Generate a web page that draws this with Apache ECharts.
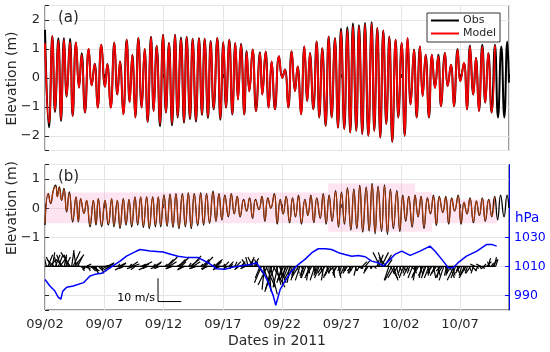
<!DOCTYPE html>
<html><head><meta charset="utf-8">
<script src="https://cdn.jsdelivr.net/npm/echarts@6/dist/echarts.min.js"></script>
<style>html,body{margin:0;padding:0;background:#fff}#c{width:550px;height:352px}</style>
</head><body><div id="c"></div>
<script>
// hours since 2011-09-02 00:00
const tickLabels = ['09/02','09/07','09/12','09/17','09/22','09/27','10/02','10/07'];
const tickStepHours = 120;
const axisEndHours = 939;

// Panel (a): tidal elevation extrema (hours, m)
const tideHours = [0,8.1,14.8,20.2,27.0,32.4,38.4,43.8,50.6,56.0,62.7,68.8,74.2,80.9,88.4,94.4,100.5,106.6,114.0,121.4,126.1,132.9,140.3,146.4,151.8,158.5,165.3,171.3,176.7,182.8,188.9,195.6,201.7,207.7,214.5,219.9,226.0,232.7,238.8,244.8,250.9,257.0,263.1,268.5,275.2,281.3,286.7,293.4,298.8,305.5,311.6,317.7,323.1,329.8,335.2,341.3,348.7,354.8,360.9,366.3,373.0,379.1,385.1,390.5,396.6,403.3,408.1,413.5,420.2,427.0,435.1,439.8,446.5,452.6,458.7,465.4,473.5,480.2,485.6,492.4,499.1,505.9,511.3,518.0,524.8,530.8,536.2,543.0,549.7,555.1,561.2,567.9,574.0,580.1,586.8,592.9,599.0,605.7,611.8,617.8,623.2,630.0,635.4,642.1,647.5,654.3,661.0,666.4,672.5,678.5,684.6,690.7,696.8,702.8,709.6,715.0,721.7,727.8,733.9,739.9,746.7,752.1,758.8,764.2,770.3,777.0,783.1,789.2,795.9,801.3,809.4,814.8,821.5,827.6,835.0,840.4,847.8,853.9,860.0,866.7,872.1,878.2,884.9,891.0,897.1,903.8,910.6,916.7,923.4,929.5,935.5,938.9];
const tideObs = [1.66,-1.70,1.45,-1.17,1.37,-1.48,1.38,-0.65,1.35,-1.31,1.22,-0.33,0.85,-1.19,1.00,-0.25,0.49,-1.02,1.15,-0.30,0.48,-1.02,1.22,-0.57,0.57,-1.25,1.32,-0.83,0.80,-1.36,1.38,-1.02,1.00,-1.52,1.42,-1.14,1.11,-1.66,1.49,-1.19,1.21,-1.63,1.49,-1.36,1.40,-1.54,1.42,-1.42,1.35,-1.50,1.37,-1.28,1.35,-1.38,1.28,-1.08,1.38,-1.44,1.23,-1.02,1.32,-1.26,1.21,-0.74,1.18,-1.26,0.93,-0.46,0.98,-1.14,0.89,-0.57,0.91,-1.02,0.57,-1.08,0.75,0.01,0.29,-1.02,0.92,-0.45,0.40,-1.25,1.09,-0.79,0.86,-1.08,1.26,-1.36,1.03,-1.65,1.43,-1.36,1.37,-1.71,1.70,-1.76,1.75,-1.88,1.88,-1.82,1.82,-1.93,1.90,-1.99,1.92,-1.82,1.72,-2.05,1.64,-1.59,1.43,-2.20,1.32,-1.36,1.21,-1.99,1.37,-0.91,0.98,-1.36,1.09,-0.62,0.80,-1.36,0.80,-0.34,0.80,-0.97,0.86,-0.28,0.46,-0.97,1.00,-0.11,0.52,-1.08,1.12,-0.57,0.69,-1.14,1.15,-0.85,0.86,-1.19,1.15,-1.36,1.09,-1.36,1.26,-0.16];
const tideModel = [1.20,-1.55,1.45,-1.12,1.30,-1.44,1.32,-0.62,1.25,-1.31,1.22,-0.33,0.80,-1.19,1.00,-0.25,0.49,-1.02,1.15,-0.30,0.48,-1.02,1.22,-0.57,0.57,-1.25,1.32,-0.83,0.80,-1.36,1.38,-1.02,1.00,-1.50,1.42,-1.14,1.11,-1.58,1.49,-1.19,1.21,-1.56,1.49,-1.33,1.36,-1.50,1.42,-1.38,1.35,-1.46,1.37,-1.25,1.35,-1.34,1.25,-1.06,1.38,-1.40,1.23,-1.02,1.32,-1.24,1.21,-0.74,1.15,-1.25,0.90,-0.46,0.98,-1.14,0.86,-0.57,0.91,-1.02,0.57,-1.08,0.75,0.01,0.29,-1.02,0.92,-0.45,0.40,-1.25,1.09,-0.79,0.86,-1.08,1.26,-1.36,1.03,-1.65,1.43,-1.36,1.37,-1.71,1.63,-1.76,1.67,-1.88,1.79,-1.82,1.77,-1.93,1.85,-1.99,1.88,-1.82,1.72,-2.05,1.64,-1.59,1.43,-2.20,1.32,-1.36,1.21,-1.99,1.37,-0.91,0.98,-1.36,1.09,-0.62,0.80,-1.36,0.80,-0.34,0.75,-0.97,0.86,-0.28,0.46,-0.97,0.97,-0.11,0.52,-1.08,1.08,-0.57,0.69,-1.14,1.08,-0.85,0.86,-1.19,1.12];

// Panel (b): elevation extrema (hours, m)
const bHours = [0,6.7,11.5,16.9,21.6,25.0,29.0,33.7,38.4,43.8,49.2,56.0,62.7,67.5,72.2,78.9,84.3,91.1,97.8,103.2,107.9,114.7,121.4,128.1,134.9,139.6,146.4,151.8,158.5,163.9,170.0,175.4,182.1,187.5,193.6,199.0,205.7,211.1,217.9,223.3,229.3,234.1,240.8,247,253,259,265,271,278,284,290,296,302,309,315,321,327,333,340,346,352,358,364,371,377,383,389,395,402,408,414,420,426,433,439,445,451,457,464,470,476,482,488,495,501,507,513,519,526,532,538,544,550,557,563,569,575,581,588,594,600,606,612,619,625,631,637,643,650,656,662,668,674,681,687,693,699,705,712,718,724,730,736,743,749,755,761,767,774,780,786,792,798,805,811,817,823,829,836,842,848,854,860,867,873,879,885,891,898,904,910,916,922,929,935,939];
const bObs = [-0.58,0.50,0.16,0.62,0.79,0.39,0.73,0.27,0.68,-0.13,0.56,-0.47,0.39,-0.47,0.33,-0.18,0.27,-0.64,0.27,-0.58,0.33,-0.64,0.27,-0.58,0.33,-0.64,0.27,-0.70,0.33,-0.58,0.30,-0.64,0.39,-0.58,0.39,-0.66,0.39,-0.70,0.39,-0.64,0.39,-0.64,0.45,-0.62,0.48,-0.66,0.50,-0.70,0.50,-0.64,0.52,-0.70,0.50,-0.60,0.52,-0.58,0.50,-0.52,0.58,-0.45,0.50,-0.40,0.45,-0.30,0.50,-0.20,0.40,-0.30,0.30,-0.10,0.35,-0.35,0.30,-0.05,0.40,-0.45,0.35,0.00,0.50,-0.55,0.30,-0.20,0.40,-0.50,0.35,-0.30,0.45,-0.55,0.30,-0.25,0.45,-0.50,0.35,-0.35,0.50,-0.55,0.45,-0.45,0.60,-0.65,0.55,-0.55,0.70,-0.75,0.65,-0.70,0.78,-0.82,0.72,-0.78,0.85,-0.88,0.75,-0.80,0.80,-0.90,0.65,-0.70,0.60,-0.80,0.45,-0.45,0.40,-0.65,0.45,-0.30,0.40,-0.70,0.35,-0.20,0.45,-0.60,0.40,-0.15,0.40,-0.55,0.35,-0.10,0.45,-0.55,0.20,-0.20,0.35,-0.50,0.25,-0.25,0.35,-0.45,0.30,-0.30,0.40,-0.40,0.45,-0.30,0.45,0.00];
const bModel = [-0.50,0.48,0.18,0.60,0.74,0.40,0.70,0.28,0.64,-0.10,0.52,-0.42,0.37,-0.43,0.31,-0.16,0.26,-0.58,0.26,-0.53,0.31,-0.58,0.26,-0.53,0.31,-0.58,0.26,-0.63,0.31,-0.53,0.29,-0.58,0.37,-0.53,0.37,-0.60,0.37,-0.64,0.37,-0.58,0.37,-0.58,0.42,-0.57,0.45,-0.60,0.47,-0.64,0.47,-0.58,0.49,-0.64,0.47,-0.55,0.49,-0.53,0.47,-0.48,0.54,-0.42,0.47,-0.37,0.42,-0.28,0.47,-0.18,0.38,-0.28,0.28,-0.09,0.33,-0.32,0.28,-0.04,0.38,-0.41,0.33,0.01,0.47,-0.50,0.28,-0.18,0.38,-0.46,0.33,-0.28,0.42,-0.50,0.28,-0.23,0.42,-0.46,0.33,-0.32,0.47,-0.50,0.42,-0.41,0.56,-0.60,0.52,-0.50,0.66,-0.69,0.61,-0.64,0.73,-0.76,0.68,-0.72,0.80,-0.82,0.70,-0.74,0.75,-0.83,0.61,-0.64,0.56,-0.74,0.42,-0.41,0.38,-0.60,0.42,-0.28,0.38,-0.64,0.33,-0.18,0.42,-0.55,0.38,-0.14,0.38,-0.50,0.33,-0.09,0.42,-0.50,0.19,-0.18,0.33,-0.46,0.24,-0.23,0.33,-0.41,0.28,-0.28,0.38];

// uncertainty band in (b): [start h, end h, bottom, top]
const bandStart = [0,573,749,783];
const bandEnd = [573,749,783,915];
const bandBottom = [-0.52,-0.81,-0.81,-0.52];
const bandTop = [0.54,0.85,0.55,0.30];

// air pressure (hours, hPa)
const presHours = [0,10,20,27,32,36,44,57,78,91,101,115,132,152,165,179,192,213,239,256,269,289,310,330,347,364,384,405,418,428,442,452,462,467,476,486,499,513,526,540,553,567,580,594,607,621,634,648,661,674,685,695,708,722,739,759,779,789,803,816,826,836,853,874,894,904,914];
const presHpa = [1001,996.5,993,988.6,987.4,993,995.6,996.5,998.8,1003.4,1004.5,1005.2,1009.1,1013.6,1017,1019.4,1021.6,1020.5,1019.8,1018.2,1017,1016,1016,1012.5,1008.4,1008,1009.8,1010.7,1011.4,1012.5,1005.7,998.8,989.7,983.3,994.2,1000,1006.8,1011.4,1014.8,1019.4,1022.1,1022.1,1021.6,1019.4,1018.2,1017,1017.5,1016.6,1013.6,1012.5,1010.2,1013.6,1018.2,1020.5,1017.5,1020.5,1023.9,1020.5,1014.8,1009.1,1009.1,1012.5,1017,1020.5,1025.1,1025.1,1023.9];
const presTicks = [990, 1010, 1030];

// wind sticks, 3-hourly from hour 0 (m/s), one row per day
const windStepHours = 3;
const windU = [
 -3,-1,2,3,-2,1,-3,2,  -1,2,3,-2,-3,1,2,-1,  -2,-4,1,3,4,-1,2,-1,  2,1,3,-1,2,1,3,2,
 3,2,1,-1,2,3,1,2,  0.5,1,3,2,-2,-1,0.5,0,  0.5,1,3,2,-3,-2,0.5,0,  0,1,3,3,-3,-2,0,0.5,
 0.5,2,4,2,-3,-2,0,0,  0,1,3,2,-3,-2,0.5,0,  0,1,3,4,3,-2,-3,-1,  0,2,3,4,2,-2,-3,-1,
 0,1,4,4,3,-2,-3,-1,  0,1,3,4,2,-2,-3,-1,  0,1,3,3,2,-2,-3,-1,  1,2,-1,-2,2,1,-1,-2,
 1,2,-1,-2,2,1,-1,-2,  -2,-1,2,1,-2,2,1,-1,  2,-2,-3,3,-1,4,-4,1,  3,-3,5,-4,2,-2,3,1,
 -2,-3,-1,-3,-2,-1,-3,-2,  -1,-2,1,-3,-2,1,-1,-2,  -2,1,-1,-2,-3,1,-2,-1,  -1,-2,1,-2,-1,-3,1,-2,
 -2,-1,1,-2,-1,-2,1,-1,  -1,1,-2,-1,-2,1,-1,-2,  -2,1,-1,2,-1,1,2,-1,  2,-1,-2,1,0.5,-1,1,0.5,
 1,2,-3,3,-2,3,-3,2,  -2,3,-3,2,-3,1,-2,1,  -1,2,-2,-1,1,-2,-1,2,  -2,1,-1,-2,-3,1,-1,-2,
 -1,-2,1,-2,-1,-2,1,-2,  -2,1,-1,-2,-3,-2,1,-1,  -1,2,-2,1,-3,-2,1,-1,  -2,-1,1,-2,-3,-1,1,-2,
 2,-1,-2,1,-1,1,-2,1,  1,-2,2,1,-1,1,2,1,  1];
const windV = [
 5,4,5,3,4,6,3,5,  4,5,4,5,3,5,4,3,  5,6,7,6.5,5,6,4,2,  -1,-2,-1,-1.5,1,-2,-1,-2,
 -2,-3,-2,-1,-2,-2,-3,-1,  0,0.5,1.5,1,-1,-1,0,0,  0,1,1.5,1,-1.5,-1,0,0,  0,1,2,1,-1,-1.5,0,0,
 0,1,2,1,-1.5,-1,0,0,  0,1,2,1.5,-1,-1,0,0,  0,1,3,4,2,-1,-1,0,  0,1,3,4,2,-1,-1.5,0,
 0,1.5,3,4.5,2,-1,-1,0,  0,1,3,4,2,-1.5,-1,0,  0,1,2.5,3,2,-1,-1.5,0,  1,2,-1,-1.5,2,1,-1,-1,
 2,2,-1,-1.5,2,1.5,-1,-1,  3,4,4,3,4,3.5,2,3,  -3,-5,-7,-8,-10,-9,-8,-11,  -12,-11,-9,-10,-8,-9,-7,-8,
 -6,-7,-5,-6,-5,-7,-6,-5,  -4,-6,-3,-5,-6,-3,-5,-4,  -5,-3,-6,-4,-5,-3,-6,-4,  -3,-5,-4,-3,-6,-4,-3,-5,
 -4,-3,-5,-2,-4,-3,-5,-2,  -3,-2,-4,-2,-3,-2,-3,-2,  -3,-2,-4,-1,-2,-1,2,-1,  2.5,-2,-3,-1,-0.5,-1,-1,0,
 3,5,6,6,6,5,4,3,  -6,-5,-6,-6,-5,-4,-3,-2,  -3,-2,-5,-3,-2,-4,-3,-2,  -5,-3,-6,-4,-5,-3,-5,-4,
 -4,-5,-3,-5,-4,-3,-5,-4,  -3,-4,-5,-2,-5,-6,-3,-4,  -4,-5,-3,-4,-6,-5,-3,-2,  -3,-4,-2,-4,-5,-3,-2,-3,
 -2,-3,1,-1,-2,-1,1,-1,  1,-1,2,3.5,2,1.5,3,4,  3];
const windBaseline = -2;          // stick origin on the left (b) axis
const windScaleUnits = 0.8;       // axis units per 10 m/s
const scaleBarAnchor = [228.7, -3.21];

const pairs = (xs, ys) => ys.map((v, i) => [xs[i], v]);
const windData = windU.map((u, i) => [i * windStepHours, u, windV[i]]);
const bandData = bandStart.map((s, i) => [s, bandEnd[i], bandBottom[i], bandTop[i]]);

const FONT = 'DejaVu Sans';
const TXT = '#262626';
const minus = v => String(v).replace('-', '\u2212');

const chart = echarts.init(document.getElementById('c'), null, {renderer: 'canvas'});
const xBase = {
  type: 'value', min: 0, max: axisEndHours, interval: tickStepHours,
  axisLine: {show: false},
  axisTick: {show: true, inside: true, length: 4, lineStyle: {color: TXT}},
  splitLine: {show: true, lineStyle: {color: '#e5e5e5', width: 1}}
};
chart.setOption({
  animation: false,
  textStyle: {fontFamily: FONT},
  grid: [
    {left: 45, right: 41, top: 5.5, height: 145, show: true, borderColor: '#333', borderWidth: 1, backgroundColor: 'transparent'},
    {left: 45, right: 41, top: 164.5, height: 145.5, show: true, borderColor: '#333', borderWidth: 1, backgroundColor: 'transparent'}
  ],
  xAxis: [
    Object.assign({gridIndex: 0, axisLabel: {show: false}}, xBase),
    Object.assign({gridIndex: 1,
      axisLabel: {show: true, fontSize: 13, color: TXT, margin: 8, fontFamily: FONT, showMaxLabel: false,
        formatter: v => (v % tickStepHours === 0 ? tickLabels[v / tickStepHours] : '')},
      name: 'Dates in 2011', nameLocation: 'middle', nameGap: 24,
      nameTextStyle: {fontSize: 14, color: TXT, fontFamily: FONT}}, xBase)
  ],
  yAxis: [
    {gridIndex: 0, type: 'value', min: -2.5, max: 2.5,
      axisLine: {show: false}, axisTick: {show: true, inside: true, length: 4, lineStyle: {color: TXT}},
      splitLine: {show: true, lineStyle: {color: '#e5e5e5'}},
      axisLabel: {fontSize: 13, color: TXT, margin: 5, fontFamily: FONT,
        formatter: v => (Number.isInteger(v) ? minus(v) : '')}},
    {gridIndex: 1, type: 'value', min: -3.5, max: 1.5,
      axisLine: {show: false}, axisTick: {show: true, inside: true, length: 4, lineStyle: {color: TXT}},
      splitLine: {show: true, lineStyle: {color: '#e5e5e5'}},
      axisLabel: {fontSize: 13, color: TXT, margin: 5, fontFamily: FONT,
        formatter: v => (Number.isInteger(v) && v >= -1 ? minus(v) : '')}},
    {gridIndex: 1, type: 'value', position: 'right', min: 980, max: 1080,
      axisLine: {show: true, lineStyle: {color: '#0000ff', width: 1}},
      axisTick: {show: true, inside: true, length: 4, lineStyle: {color: '#0000ff'}, customValues: presTicks},
      splitLine: {show: false},
      axisLabel: {fontSize: 12.5, color: '#0000ff', margin: 5, fontFamily: FONT, customValues: presTicks,
        formatter: v => String(v)}}
  ],
  legend: {
    data: ['Obs', 'Model'], orient: 'vertical', left: 427, top: 13,
    icon: 'rect', itemWidth: 28, itemHeight: 2, itemGap: 2,
    padding: [2, 4, 3, 4], borderColor: '#333', borderWidth: 1, backgroundColor: '#fff',
    textStyle: {fontSize: 11, color: TXT, fontFamily: FONT, padding: [0, 0, 0, -1]}
  },
  graphic: [
    {type: 'text', left: 58, top: 11, z: 100, style: {text: '(a)', font: '15px "DejaVu Sans"', fill: TXT}},
    {type: 'text', left: 58, top: 170, z: 100, style: {text: '(b)', font: '15px "DejaVu Sans"', fill: TXT}},
    {type: 'text', x: 12, y: 78.5, rotation: Math.PI / 2, style: {text: 'Elevation (m)', font: '14px "DejaVu Sans"', fill: TXT, align: 'center', verticalAlign: 'middle'}},
    {type: 'text', x: 12, y: 208, rotation: Math.PI / 2, style: {text: 'Elevation (m)', font: '14px "DejaVu Sans"', fill: TXT, align: 'center', verticalAlign: 'middle'}},
    {type: 'text', x: 515, y: 218, style: {text: 'hPa', font: '13.5px "DejaVu Sans"', fill: '#0000ff', align: 'left', verticalAlign: 'middle'}}
  ],
  series: [
    {name: 'Obs', type: 'line', xAxisIndex: 0, yAxisIndex: 0, data: pairs(tideHours, tideObs),
      smooth: 0.5, showSymbol: false, lineStyle: {color: '#000', width: 2}, itemStyle: {color: '#000'}, z: 3},
    {name: 'Model', type: 'line', xAxisIndex: 0, yAxisIndex: 0, data: pairs(tideHours, tideModel),
      smooth: 0.5, showSymbol: false, lineStyle: {color: '#ff0000', width: 1.8}, itemStyle: {color: '#ff0000'}, z: 4},
    {type: 'custom', xAxisIndex: 1, yAxisIndex: 1, data: bandData, silent: true, z: 1,
      renderItem: (p, api) => {
        const a = api.coord([api.value(0), api.value(3)]);
        const b = api.coord([api.value(1), api.value(2)]);
        return {type: 'rect', shape: {x: a[0], y: a[1], width: b[0] - a[0], height: b[1] - a[1]},
          style: {fill: 'rgba(245,120,180,0.2)'}};
      }},
    {type: 'line', xAxisIndex: 1, yAxisIndex: 1, data: pairs(bHours, bObs), smooth: 0.5, showSymbol: false,
      lineStyle: {color: '#000', width: 1.3}, z: 3},
    {type: 'line', xAxisIndex: 1, yAxisIndex: 1, data: pairs(bHours, bModel), smooth: 0.5, showSymbol: false,
      lineStyle: {color: 'rgba(220,70,0,0.8)', width: 1.1}, z: 4},
    {type: 'line', xAxisIndex: 1, yAxisIndex: 1, data: [[windData[0][0], windBaseline], [windData[windData.length - 1][0], windBaseline]],
      showSymbol: false, lineStyle: {color: '#000', width: 1.2}, z: 3},
    {type: 'custom', xAxisIndex: 1, yAxisIndex: 1, data: windData, z: 3, clip: true,
      renderItem: (p, api) => {
        const base = api.coord([api.value(0), windBaseline]);
        const k = api.size([0, windScaleUnits])[1] / 10;
        return {type: 'line', shape: {x1: base[0], y1: base[1], x2: base[0] + api.value(1) * k, y2: base[1] - api.value(2) * k},
          style: {stroke: '#000', lineWidth: 1.2}};
      }},
    {type: 'line', xAxisIndex: 1, yAxisIndex: 2, data: pairs(presHours, presHpa), showSymbol: false,
      lineStyle: {color: '#0000ff', width: 1.5}, z: 5},
    {type: 'custom', xAxisIndex: 1, yAxisIndex: 1, data: [scaleBarAnchor], z: 6,
      renderItem: (p, api) => {
        const c = api.coord([api.value(0), api.value(1)]);
        const L = api.size([0, windScaleUnits])[1];
        return {type: 'group', children: [
          {type: 'polyline', shape: {points: [[c[0], c[1] - L], [c[0], c[1]], [c[0] + L, c[1]]]}, style: {stroke: '#000', lineWidth: 1, fill: null}},
          {type: 'text', style: {text: '10 m/s', x: c[0] - 3, y: c[1] - 3, align: 'right', verticalAlign: 'middle', font: '11px "DejaVu Sans"', fill: '#000'}}
        ]};
      }}
  ]
});
</script></body></html>
